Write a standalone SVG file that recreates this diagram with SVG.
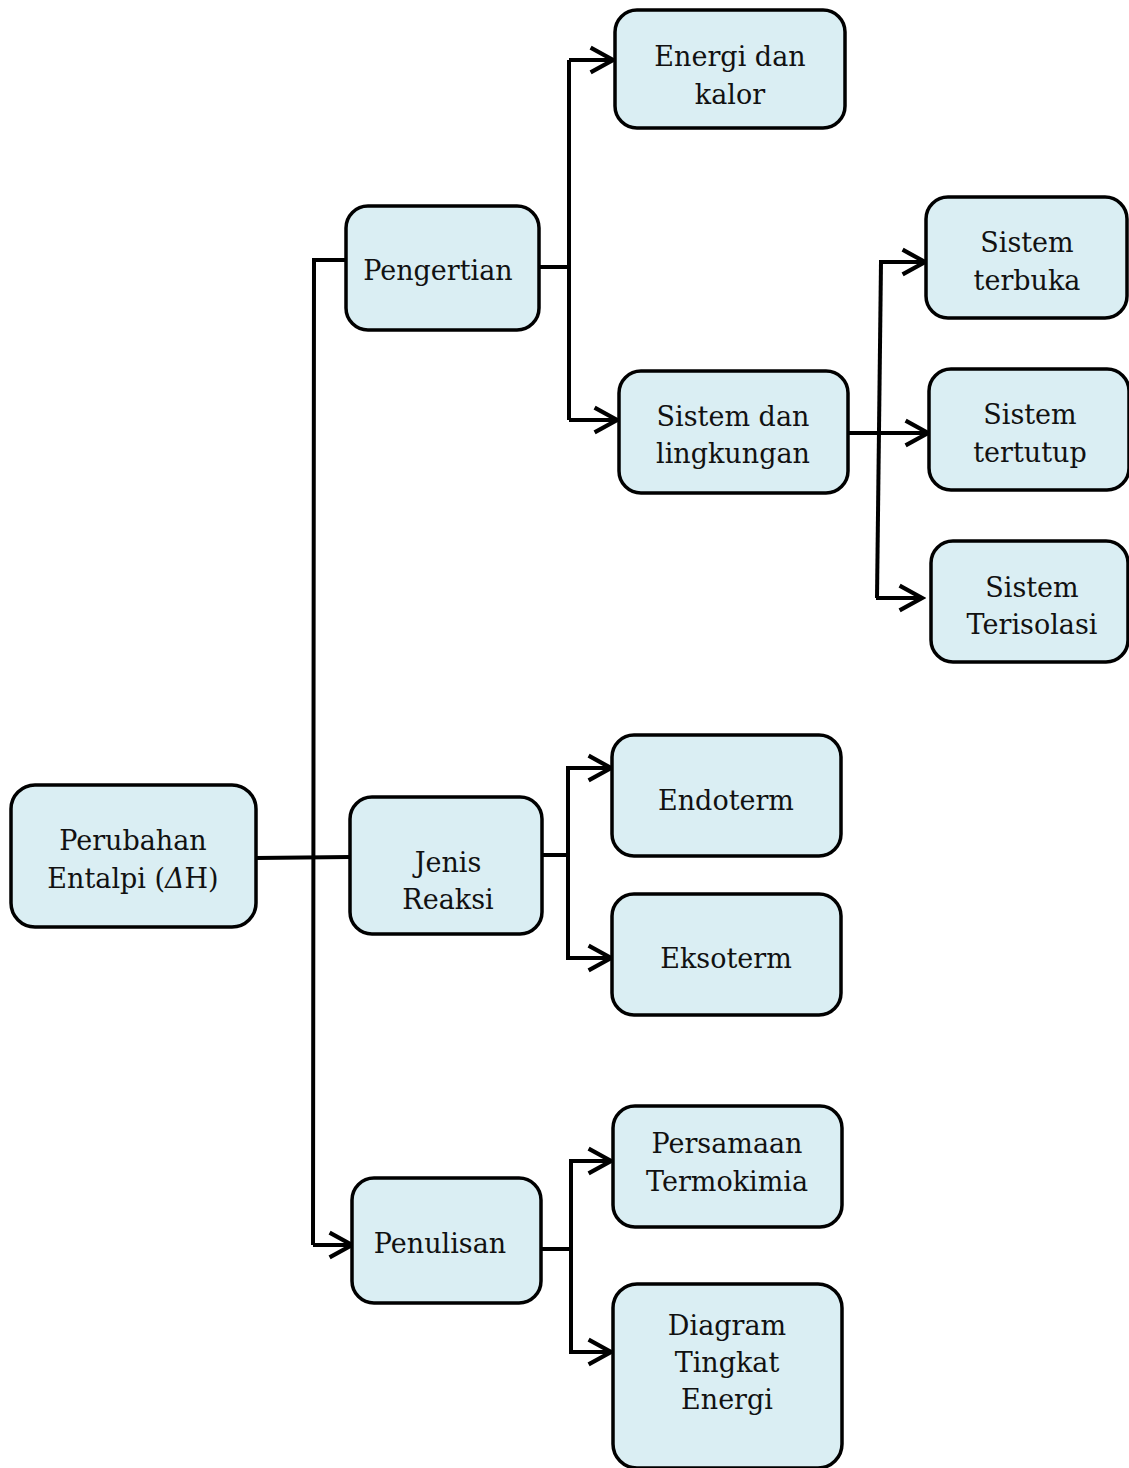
<svg xmlns="http://www.w3.org/2000/svg" width="1129" height="1468" viewBox="0 0 1129 1468">
<defs>
<marker id="arr" markerUnits="userSpaceOnUse" markerWidth="32" markerHeight="32" viewBox="-26 -15 30 30" refX="0" refY="0" orient="auto">
<path d="M-21,-11.5 L0,0 L-21,11.5" fill="none" stroke="#000" stroke-width="4" stroke-linejoin="miter"/>
</marker>
<style>
.box{fill:#DAEEF3;stroke:#000;stroke-width:3.5}
.t{font-family:"DejaVu Serif","Liberation Serif",serif;font-size:27px;fill:#111;text-anchor:middle}
.c{fill:none;stroke:#000;stroke-width:4}
</style>
</defs>
<rect width="1129" height="1468" fill="#fff"/>
<g id="connectors">
<path class="c" d="M256,858 L350,857"/>
<path class="c" d="M312,260 L346,260 M314,260 L313,1245"/>
<path class="c" d="M313,1245 L352,1245" marker-end="url(#arr)"/>
<path class="c" d="M539,267 L569,267 M569,60 L569,420"/>
<path class="c" d="M569,60 L613,60" marker-end="url(#arr)"/>
<path class="c" d="M569,420 L617,420" marker-end="url(#arr)"/>
<path class="c" d="M881,262 L877,598"/>
<path class="c" d="M879,262 L925,262" marker-end="url(#arr)"/>
<path class="c" d="M848,433 L928,433" marker-end="url(#arr)"/>
<path class="c" d="M876,598 L922,598" marker-end="url(#arr)"/>
<path class="c" d="M538,855 L568,855 M568,768 L568,958"/>
<path class="c" d="M566,768 L611,768" marker-end="url(#arr)"/>
<path class="c" d="M566,958 L611,958" marker-end="url(#arr)"/>
<path class="c" d="M541,1249 L571,1249 M571,1161 L571,1352"/>
<path class="c" d="M569,1161 L611,1161" marker-end="url(#arr)"/>
<path class="c" d="M569,1352 L611,1352" marker-end="url(#arr)"/>
</g>
<g id="n-perubahan"><rect class="box" x="11" y="785" width="245" height="142" rx="24"/><text class="t" x="133" y="850">Perubahan</text><text class="t" x="133" y="888">Entalpi (<tspan font-style="italic">Δ</tspan>H)</text></g>
<g id="n-pengertian"><rect class="box" x="346" y="206" width="193" height="124" rx="22"/><text class="t" x="438" y="280">Pengertian</text></g>
<g id="n-jenis"><rect class="box" x="350" y="797" width="192" height="137" rx="22"/><text class="t" x="448" y="872">Jenis</text><text class="t" x="448" y="909">Reaksi</text></g>
<g id="n-penulisan"><rect class="box" x="352" y="1178" width="189" height="125" rx="22"/><text class="t" x="440" y="1253">Penulisan</text></g>
<g id="n-energi"><rect class="box" x="615" y="10" width="230" height="118" rx="22"/><text class="t" x="730" y="66">Energi dan</text><text class="t" x="730" y="104">kalor</text></g>
<g id="n-sistem"><rect class="box" x="619" y="371" width="229" height="122" rx="22"/><text class="t" x="733" y="426">Sistem dan</text><text class="t" x="733" y="463">lingkungan</text></g>
<g id="n-terbuka"><rect class="box" x="926" y="197" width="201" height="121" rx="22"/><text class="t" x="1027" y="252">Sistem</text><text class="t" x="1027" y="290">terbuka</text></g>
<g id="n-tertutup"><rect class="box" x="929" y="369" width="200" height="121" rx="22"/><text class="t" x="1030" y="424">Sistem</text><text class="t" x="1030" y="462">tertutup</text></g>
<g id="n-terisolasi"><rect class="box" x="931" y="541" width="197" height="121" rx="22"/><text class="t" x="1032" y="597">Sistem</text><text class="t" x="1032" y="634">Terisolasi</text></g>
<g id="n-endoterm"><rect class="box" x="612" y="735" width="229" height="121" rx="22"/><text class="t" x="726" y="810">Endoterm</text></g>
<g id="n-eksoterm"><rect class="box" x="612" y="894" width="229" height="121" rx="22"/><text class="t" x="726" y="968">Eksoterm</text></g>
<g id="n-persamaan"><rect class="box" x="613" y="1106" width="229" height="121" rx="22"/><text class="t" x="727" y="1153">Persamaan</text><text class="t" x="727" y="1191">Termokimia</text></g>
<g id="n-diagram"><rect class="box" x="613" y="1284" width="229" height="184" rx="24"/><text class="t" x="727" y="1335">Diagram</text><text class="t" x="727" y="1372">Tingkat</text><text class="t" x="727" y="1409">Energi</text></g>
</svg>
